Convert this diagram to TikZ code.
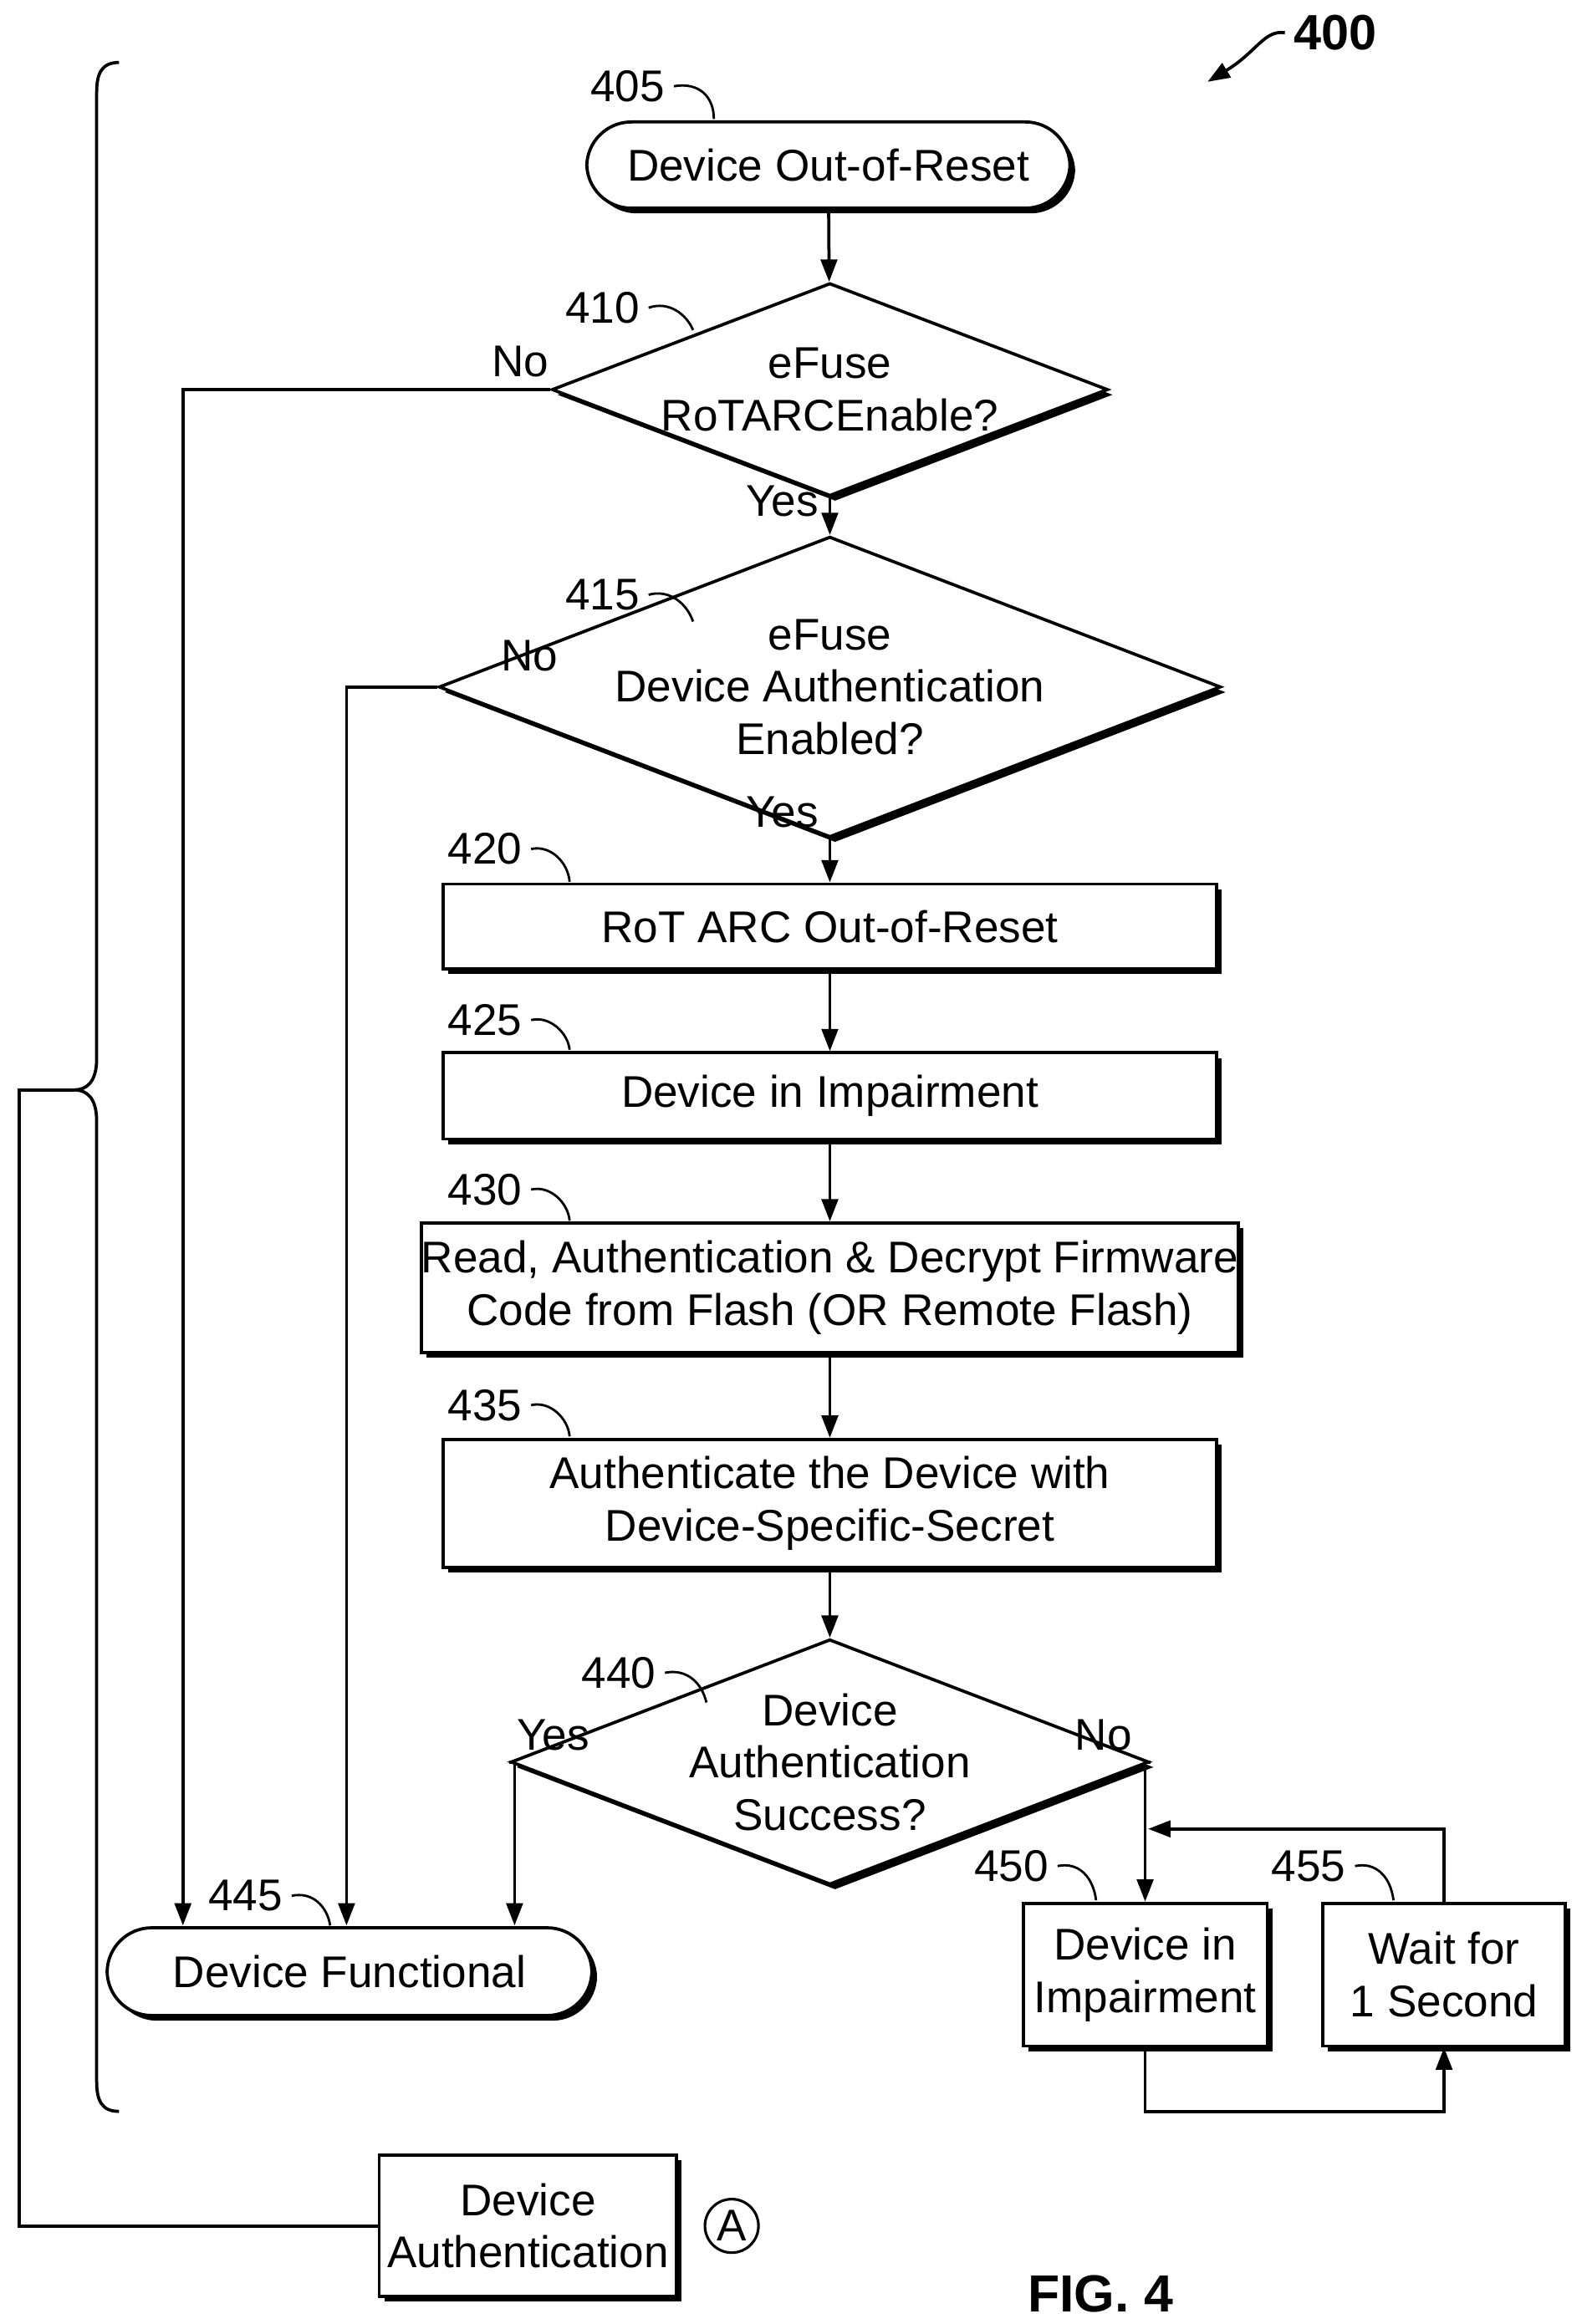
\documentclass[tikz,border=0pt]{standalone}
\usepackage{fontspec}
\setmainfont{Liberation Sans}
\usetikzlibrary{shapes.geometric,shadows,arrows.meta}
\begin{document}
\begin{tikzpicture}[x=0.02cm,y=-0.02cm,
 every node/.style={font=\fontsize{17}{20}\selectfont},
 sh/.style={drop shadow={shadow xshift=0.07cm,shadow yshift=-0.07cm,fill=black,opacity=1}},
 box/.style={draw,line width=1.2pt,fill=white,sh,align=center,inner sep=0pt},
 term/.style={box,rounded corners=0.6cm},
 dia/.style={draw,line width=1.2pt,fill=white,sh,diamond,aspect=2.6,align=center,inner sep=0pt},
 ln/.style={line width=1.2pt},
 ar/.style={ln,-{Triangle[length=0.3cm,width=0.22cm]}},
 lb/.style={font=\fontsize{17}{20}\selectfont}]
\useasboundingbox (0,0) rectangle (1067,1563);
\node[term,minimum width=6.5cm,minimum height=1.16cm] (n405) at (557,111) {Device Out-of-Reset};
\node[dia,minimum width=7.48cm,minimum height=2.6cm] (n410) at (558,262) {eFuse\\RoTARCEnable?};
\node[dia,minimum width=7.48cm,minimum height=3.04cm] (n415) at (558,462) {eFuse\\Device Authentication\\Enabled?};
\node[box,minimum width=10.4cm,minimum height=1.14cm] (n420) at (558,623) {RoT ARC Out-of-Reset};
\node[box,minimum width=10.4cm,minimum height=1.16cm] (n425) at (558,737) {Device in Impairment};
\node[box,minimum width=10.4cm,minimum height=1.74cm] (n430) at (558,866) {Read, Authentication \& Decrypt Firmware\\Code from Flash (OR Remote Flash)};
\node[box,minimum width=10.4cm,minimum height=1.72cm] (n435) at (558,1011) {Authenticate the Device with\\Device-Specific-Secret};
\node[dia,minimum width=6.76cm,minimum height=2.92cm] (n440) at (558,1185) {Device\\Authentication\\Success?};
\node[term,minimum width=6.52cm,minimum height=1.18cm] (n445) at (235,1326) {Device Functional};
\node[box,minimum width=3.28cm,minimum height=1.92cm] (n450) at (770,1328) {Device in\\Impairment};
\node[box,minimum width=3.26cm,minimum height=1.92cm] (n455) at (971,1328) {Wait for\\1 Second};
\node[box,draw,line width=1.2pt,minimum width=4cm,minimum height=1.9cm,drop shadow={shadow xshift=0cm,shadow yshift=0cm,opacity=0}] (nda) at (355,1497) {Device\\Authentication};
\node[draw,circle,line width=1pt,minimum size=0.72cm,inner sep=0pt] (ca) at (492,1497) {A};
\node[font=\bfseries\fontsize{20}{24}\selectfont] (fig) at (740,1543) {FIG. 4};
\node[font=\bfseries\fontsize{19}{22}\selectfont] (t400) at (898,22) {400};
\draw[ar] (t400.west) .. controls (850,20) and (845,35) .. (812,55);
% connectors
\draw[ar] (n405) -- (n410);
\draw[ar] (n410) -- (n415);
\draw[ar] (n415) -- (n420);
\draw[ar] (n420) -- (n425);
\draw[ar] (n425) -- (n430);
\draw[ar] (n430) -- (n435);
\draw[ar] (n435) -- (n440);
\draw[ar] (n410.west) -| (123,1295);
\draw[ar] (n415.west) -| (233,1295);
\draw[ar] (n440.west) -| (346,1295);
\draw[ar] (n440.east) -| (n450.north);
\draw[ln,-{Triangle[length=0.3cm,width=0.22cm]}] (n450.south) |- (971,1420) -- (n455.south);
\draw[ar] (n455.north) |- (772,1230);
\node[lb] at (350,243) {No};
\node[lb] at (526,337) {Yes};
\node[lb] at (356,441) {No};
\node[lb] at (526,546) {Yes};
\node[lb] at (372,1167) {Yes};
\node[lb] at (742,1167) {No};
% labels
\node[lb] (l405) at (422,58) {405}; \draw[ln,line width=0.9pt] (l405.east) .. controls (470,55) and (480,65) .. (480,80);
\node[lb] (l410) at (405,207) {410}; \draw[ln,line width=0.9pt] (l410.east) .. controls (450,202) and (462,212) .. (466,222);
\node[lb] (l415) at (405,400) {415}; \draw[ln,line width=0.9pt] (l415.east) .. controls (450,396) and (462,406) .. (466,418);
\node[lb] (l420) at (326,571) {420}; \draw[ln,line width=0.9pt] (l420.east) .. controls (370,568) and (382,580) .. (383,593);
\node[lb] (l425) at (326,686) {425}; \draw[ln,line width=0.9pt] (l425.east) .. controls (370,683) and (382,695) .. (383,706);
\node[lb] (l430) at (326,800) {430}; \draw[ln,line width=0.9pt] (l430.east) .. controls (370,797) and (382,809) .. (383,821);
\node[lb] (l435) at (326,945) {435}; \draw[ln,line width=0.9pt] (l435.east) .. controls (370,942) and (382,954) .. (383,966);
\node[lb] (l440) at (416,1125) {440}; \draw[ln,line width=0.9pt] (l440.east) .. controls (462,1122) and (472,1132) .. (475,1145);
\node[lb] (l445) at (165,1275) {445}; \draw[ln,line width=0.9pt] (l445.east) .. controls (210,1272) and (220,1282) .. (222,1295);
\node[lb] (l450) at (680,1255) {450}; \draw[ln,line width=0.9pt] (l450.east) .. controls (725,1252) and (735,1262) .. (737,1278);
\node[lb] (l455) at (880,1255) {455}; \draw[ln,line width=0.9pt] (l455.east) .. controls (925,1252) and (935,1262) .. (937,1278);
% brace
\draw[ln] (80,42) .. controls (68,42) and (65,50) .. (65,62) -- (65,712) .. controls (65,728) and (58,733) .. (50,733)
 .. controls (58,733) and (65,738) .. (65,754) -- (65,1400) .. controls (65,1412) and (68,1420) .. (80,1420);
\coordinate (bt) at (50,733);
\draw[ln] (bt) -- (13,733) |- (nda.west);
\end{tikzpicture}
\end{document}
